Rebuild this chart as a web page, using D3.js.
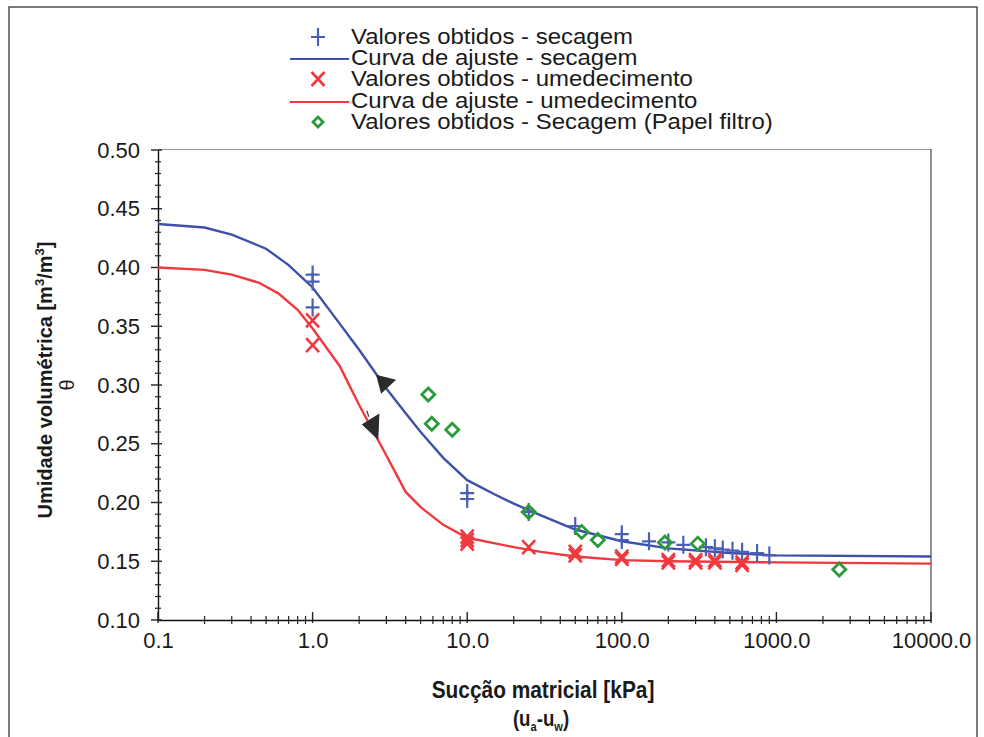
<!DOCTYPE html>
<html>
<head>
<meta charset="utf-8">
<script src="https://cdn.jsdelivr.net/npm/d3@7"></script>
<style>
  body { margin: 0; background: #fff; }
  svg { display: block; }
  text { font-family: "Liberation Sans", Arial, sans-serif; fill: #1a1a1a; }
</style>
</head>
<body>
<svg id="chart" width="984" height="737"></svg>
<script>
// Axis ticks
const xTickValues = [0.1, 1, 10, 100, 1000, 10000];
const xTickLabels = ["0.1", "1.0", "10.0", "100.0", "1000.0", "10000.0"];
const yTickValues = [0.10, 0.15, 0.20, 0.25, 0.30, 0.35, 0.40, 0.45, 0.50];
const yTickLabels = ["0.10", "0.15", "0.20", "0.25", "0.30", "0.35", "0.40", "0.45", "0.50"];

// Measured points - drying (secagem)
const dryObsSuction = [1, 1, 1, 10, 10, 25, 50, 100, 100, 150, 200, 250, 350, 400, 450, 520, 600, 750, 900];
const dryObsTheta   = [0.394, 0.388, 0.366, 0.208, 0.203, 0.192, 0.180, 0.173, 0.168, 0.167, 0.166, 0.164, 0.162, 0.161, 0.160, 0.159, 0.158, 0.157, 0.155];

// Fitted curve - drying
const dryFitSuction = [0.1, 0.2, 0.3, 0.5, 0.7, 1, 1.5, 2, 3, 4, 5, 7, 10, 15, 20, 30, 50, 100, 200, 500, 1000, 10000];
const dryFitTheta   = [0.437, 0.434, 0.428, 0.416, 0.402, 0.383, 0.352, 0.330, 0.297, 0.276, 0.260, 0.238, 0.219, 0.207, 0.199, 0.189, 0.177, 0.167, 0.161, 0.157, 0.155, 0.154];

// Measured points - wetting (umedecimento)
const wetObsSuction = [1, 1, 10, 10, 10, 25, 50, 50, 100, 100, 200, 200, 300, 300, 400, 400, 600, 600];
const wetObsTheta   = [0.355, 0.334, 0.171, 0.168, 0.165, 0.162, 0.158, 0.155, 0.154, 0.152, 0.151, 0.149, 0.151, 0.149, 0.151, 0.149, 0.149, 0.147];

// Fitted curve - wetting
const wetFitSuction = [0.1, 0.2, 0.3, 0.45, 0.6, 0.8, 1, 1.5, 2, 3, 4, 5, 7, 10, 20, 30, 50, 100, 200, 1000, 10000];
const wetFitTheta   = [0.400, 0.398, 0.394, 0.387, 0.378, 0.364, 0.348, 0.316, 0.283, 0.240, 0.209, 0.196, 0.181, 0.170, 0.162, 0.158, 0.154, 0.151, 0.150, 0.149, 0.148];

// Measured points - drying, filter paper method
const filterSuction = [5.6, 5.9, 8.0, 25, 55, 70, 190, 310, 2550];
const filterTheta   = [0.292, 0.267, 0.262, 0.192, 0.175, 0.168, 0.166, 0.165, 0.143];

// Direction arrows on the fitted curves: [suction, theta]
const dryArrow = [2.9, 0.302];
const wetArrow = [2.45, 0.268];

const legendLabels = [
  "Valores obtidos - secagem",
  "Curva de ajuste - secagem",
  "Valores obtidos - umedecimento",
  "Curva de ajuste - umedecimento",
  "Valores obtidos - Secagem (Papel filtro)"
];

const BLUE = "#3d51a9", BLUE_PT = "#4a60b6", RED = "#f0393f", GREEN = "#2a9a3c";

const svg = d3.select("#chart");
const plot = { left: 158, right: 931, top: 150, bottom: 620 };

const x = d3.scaleLog().domain([0.1, 10000]).range([plot.left, plot.right]);
const y = d3.scaleLinear().domain([0.10, 0.50]).range([plot.bottom, plot.top]);

// Outer frame
svg.append("rect").attr("x", 9).attr("y", 7).attr("width", 968).attr("height", 740)
  .attr("fill", "none").attr("stroke", "#444").attr("stroke-width", 1.4);

// Plot frame (top and right)
svg.append("line").attr("x1", plot.left).attr("x2", plot.right).attr("y1", plot.top - 0.5).attr("y2", plot.top - 0.5)
  .attr("stroke", "#9a9a9a").attr("stroke-width", 1.2);
svg.append("line").attr("x1", plot.right).attr("x2", plot.right).attr("y1", plot.top - 1).attr("y2", plot.bottom)
  .attr("stroke", "#555").attr("stroke-width", 1.3);

// X axis
const xAxis = svg.append("g").attr("transform", `translate(0,${plot.bottom})`)
  .call(d3.axisBottom(x).tickValues(xTickValues).tickSize(0).tickPadding(28)
    .tickFormat((d, i) => xTickLabels[i]));
xAxis.select(".domain").attr("stroke", "#111").attr("stroke-width", 1.4);
xAxis.selectAll("text").style("font-size", "22px").attr("fill", "#1a1a1a").attr("dy", "0");

const xMinor = [];
for (let e = -1; e < 4; e++) for (let m = 2; m <= 9; m++) xMinor.push(m * Math.pow(10, e));
svg.append("g").selectAll("line").data(xMinor).join("line")
  .attr("x1", d => x(d)).attr("x2", d => x(d))
  .attr("y1", plot.bottom - 4).attr("y2", plot.bottom + 4)
  .attr("stroke", "#222").attr("stroke-width", 1.2);
svg.append("g").selectAll("line").data(xTickValues).join("line")
  .attr("x1", d => x(d)).attr("x2", d => x(d))
  .attr("y1", plot.bottom - 8).attr("y2", plot.bottom + 3)
  .attr("stroke", "#222").attr("stroke-width", 1.4);

// Y axis
const yAxis = svg.append("g").attr("transform", `translate(${plot.left},0)`)
  .call(d3.axisLeft(y).tickValues(yTickValues).tickSize(0).tickPadding(18)
    .tickFormat((d, i) => yTickLabels[i]));
yAxis.select(".domain").attr("stroke", "#111").attr("stroke-width", 1.4);
yAxis.selectAll("text").style("font-size", "22px").attr("fill", "#1a1a1a");

const yMinor = d3.range(10, 51).map(v => v / 100).filter(v => Math.round(v * 100) % 5 !== 0);
svg.append("g").selectAll("line").data(yMinor).join("line")
  .attr("x1", plot.left - 3).attr("x2", plot.left + 3)
  .attr("y1", d => y(d)).attr("y2", d => y(d))
  .attr("stroke", "#222").attr("stroke-width", 1.2);
svg.append("g").selectAll("line").data(yTickValues).join("line")
  .attr("x1", plot.left - 7).attr("x2", plot.left + 4)
  .attr("y1", d => y(d)).attr("y2", d => y(d))
  .attr("stroke", "#222").attr("stroke-width", 1.4);

// Fitted curves
const line = d3.line().x(d => x(d[0])).y(d => y(d[1]));
svg.append("path").datum(dryFitSuction.map((s, i) => [s, dryFitTheta[i]]))
  .attr("d", line).attr("fill", "none").attr("stroke", BLUE).attr("stroke-width", 2.4);
svg.append("path").datum(wetFitSuction.map((s, i) => [s, wetFitTheta[i]]))
  .attr("d", line).attr("fill", "none").attr("stroke", RED).attr("stroke-width", 2.4);

// Markers
const plusPath = "M-7,0H7M0,-9V9";
const crossPath = "M-6.5,-7L6.5,7M-6.5,7L6.5,-7";
const diamondPath = "M0,-6.5L6.5,0L0,6.5L-6.5,0Z";

svg.append("g").selectAll("path").data(dryObsSuction.map((s, i) => [s, dryObsTheta[i]])).join("path")
  .attr("transform", d => `translate(${x(d[0])},${y(d[1])})`)
  .attr("d", plusPath).attr("fill", "none").attr("stroke", BLUE_PT).attr("stroke-width", 2.2);
svg.append("g").selectAll("path").data(wetObsSuction.map((s, i) => [s, wetObsTheta[i]])).join("path")
  .attr("transform", d => `translate(${x(d[0])},${y(d[1])})`)
  .attr("d", crossPath).attr("fill", "none").attr("stroke", RED).attr("stroke-width", 2.6);
svg.append("g").selectAll("path").data(filterSuction.map((s, i) => [s, filterTheta[i]])).join("path")
  .attr("transform", d => `translate(${x(d[0])},${y(d[1])})`)
  .attr("d", diamondPath).attr("fill", "none").attr("stroke", GREEN).attr("stroke-width", 2.8);

// Direction arrowheads
svg.append("path")
  .attr("transform", `translate(${x(dryArrow[0])},${y(dryArrow[1])})`)
  .attr("d", "M-8,-8L12,-3L-3,11Z").attr("fill", "#2b2b2b");
svg.append("path")
  .attr("transform", `translate(${x(wetArrow[0])},${y(wetArrow[1])})`)
  .attr("d", "M-10,2L6,-8L5,16Z M-4,-6L-6,-12").attr("fill", "#2b2b2b")
  .attr("stroke", "#2b2b2b").attr("stroke-width", 1.2);

// Legend (text slightly widened, as set in the original layout)
const legendRowsY = [37, 58, 79, 101, 122];
const lg = svg.append("g");
const lgText = lg.append("g").attr("transform", "translate(351,0) scale(1.09,1)");
legendLabels.forEach((lab, i) => {
  lgText.append("text").attr("x", 0).attr("y", legendRowsY[i] + 7.5).style("font-size", "22px").text(lab);
});
lg.append("path").attr("transform", `translate(318,${legendRowsY[0]})`).attr("d", plusPath)
  .attr("fill", "none").attr("stroke", BLUE_PT).attr("stroke-width", 2.2);
lg.append("line").attr("x1", 290).attr("x2", 349).attr("y1", legendRowsY[1] + 1).attr("y2", legendRowsY[1] + 1)
  .attr("stroke", BLUE).attr("stroke-width", 2.2);
lg.append("path").attr("transform", `translate(318,${legendRowsY[2]})`).attr("d", crossPath)
  .attr("fill", "none").attr("stroke", RED).attr("stroke-width", 2.6);
lg.append("line").attr("x1", 290).attr("x2", 349).attr("y1", legendRowsY[3] + 1).attr("y2", legendRowsY[3] + 1)
  .attr("stroke", RED).attr("stroke-width", 2.2);
lg.append("path").attr("transform", `translate(318,${legendRowsY[4]})`).attr("d", "M0,-5L5,0L0,5L-5,0Z")
  .attr("fill", "none").attr("stroke", GREEN).attr("stroke-width", 2.8);

// Y axis titles
svg.append("text").attr("transform", "translate(52,380) rotate(-90)")
  .attr("text-anchor", "middle").style("font-size", "20px").style("font-weight", "bold")
  .call(t => {
    t.append("tspan").text("Umidade volumétrica [m");
    t.append("tspan").attr("dy", -8).style("font-size", "13px").text("3");
    t.append("tspan").attr("dy", 8).text("/m");
    t.append("tspan").attr("dy", -8).style("font-size", "13px").text("3");
    t.append("tspan").attr("dy", 8).text("]");
  });
svg.append("text").attr("transform", "translate(74,385) rotate(-90)")
  .attr("text-anchor", "middle").style("font-size", "20px").text("θ");

// X axis titles, condensed bold
svg.append("text").attr("transform", "translate(543,698) scale(0.87,1)").attr("text-anchor", "middle")
  .style("font-size", "24px").style("font-weight", "bold")
  .text("Sucção matricial [kPa]");
svg.append("text").attr("transform", "translate(541,726) scale(0.85,1)").attr("text-anchor", "middle")
  .style("font-size", "22px").style("font-weight", "bold")
  .call(t => {
    t.append("tspan").text("(u");
    t.append("tspan").attr("dy", 5).style("font-size", "13px").text("a");
    t.append("tspan").attr("dy", -5).text("-u");
    t.append("tspan").attr("dy", 5).style("font-size", "13px").text("w");
    t.append("tspan").attr("dy", -5).text(")");
  });
</script>
</body>
</html>
